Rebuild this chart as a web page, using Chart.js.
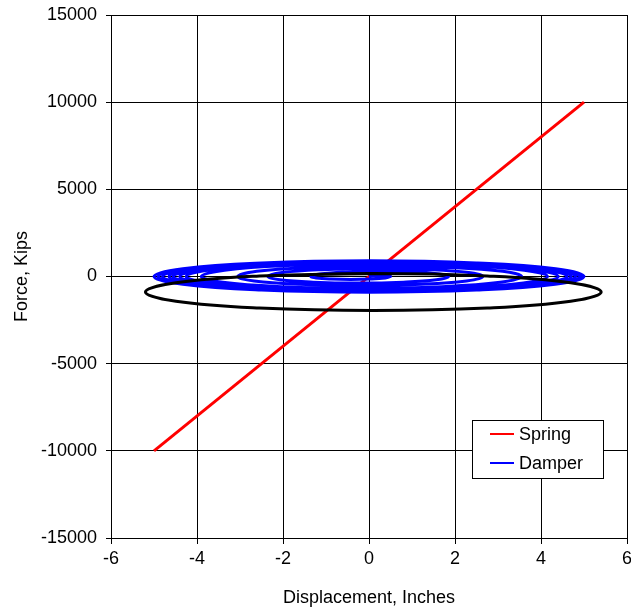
<!DOCTYPE html>
<html>
<head>
<meta charset="utf-8">
<script src="https://cdn.jsdelivr.net/npm/chart.js@4.4.0/dist/chart.umd.min.js"></script>
<style>
  html, body { margin: 0; padding: 0; background: #fff; }
</style>
</head>
<body>
<canvas id="chart" width="631" height="609"></canvas>
<script>
// axis ticks
const xTicks = [-6, -4, -2, 0, 2, 4, 6];
const yTicks = [-15000, -10000, -5000, 0, 5000, 10000, 15000];

// spring: straight line
const springPoints = [[-5, -10000], [5, 10000]];

// damper: force vs displacement, spiral building up to +/-5 in
const damperPoints = [
  [0, 0], [0.03, 23], [0.13, 39], [0.25, 45], [0.38, 39], [0.47, 23], [0.5, 0],
  [0.38, -83], [0.04, -144], [-0.43, -167], [-0.89, -144], [-1.23, -83], [-1.35, 0],
  [-1.14, 144], [-0.55, 249], [0.25, 288], [1.05, 249], [1.64, 144], [1.85, 0],
  [1.57, -189], [0.8, -327], [-0.25, -378], [-1.3, -327], [-2.07, -189], [-2.35, 0],
  [-2.02, 225], [-1.1, 390], [0.15, 450], [1.4, 390], [2.32, 225], [2.65, 0],
  [2.27, -257], [1.23, -444], [-0.2, -513], [-1.63, -444], [-2.67, -257], [-3.05, 0],
  [-2.61, 297], [-1.4, 514], [0.25, 594], [1.9, 514], [3.11, 297], [3.55, 0],
  [3.05, -335], [1.69, -581], [-0.18, -671], [-2.04, -581], [-3.4, -335], [-3.9, 0],
  [-3.36, 362], [-1.89, 628], [0.13, 725], [2.14, 628], [3.61, 362], [4.15, 0],
  [3.59, -378], [2.05, -655], [-0.05, -756], [-2.15, -655], [-3.69, -378], [-4.25, 0],
  [-3.67, 389], [-2.09, 674], [0.08, 779], [2.24, 674], [3.82, 389], [4.4, 0],
  [3.81, -396], [2.2, -686], [0, -792], [-2.2, -686], [-3.81, -396], [-4.4, 0],
  [-3.8, 405], [-2.15, 701], [0.1, 810], [2.35, 701], [4.0, 405], [4.6, 0],
  [3.99, -412], [2.31, -713], [0.03, -824], [-2.26, -713], [-3.94, -412], [-4.55, 0],
  [-3.93, 416], [-2.24, 721], [0.08, 833], [2.39, 721], [4.08, 416], [4.7, 0],
  [4.07, -421], [2.36, -729], [0.03, -842], [-2.31, -729], [-4.02, -421], [-4.65, 0],
  [-4.02, 425], [-2.29, 737], [0.08, 851], [2.44, 737], [4.17, 425], [4.8, 0],
  [4.16, -432], [2.4, -748], [0, -864], [-2.4, -748], [-4.16, -432], [-4.8, 0],
  [-4.15, 437], [-2.38, 756], [0.05, 873], [2.48, 756], [4.25, 437], [4.9, 0],
  [4.24, -441], [2.45, -764], [0, -882], [-2.45, -764], [-4.24, -441], [-4.9, 0],
  [-4.24, 446], [-2.43, 772], [0.05, 891], [2.53, 772], [4.34, 446], [5.0, 0],
  [4.33, -450], [2.5, -779], [0, -900], [-2.5, -779], [-4.33, -450], [-5.0, 0],
  [-4.33, 450], [-2.5, 779], [0, 900], [2.5, 779], [4.33, 450], [5.0, 0]
];

// black loop (not in legend)
const loopPoints = [
  [0.10, 170], [-2.55, 28], [-4.49, -360], [-5.20, -890], [-4.49, -1420],
  [-2.55, -1808], [0.10, -1950], [2.75, -1808], [4.69, -1420], [5.40, -890],
  [4.69, -360], [2.75, 28], [0.10, 170], [-2.55, 28]
];

const toXY = pts => pts.map(p => ({ x: p[0], y: p[1] }));

Chart.defaults.font.family = "'Liberation Sans', Arial, sans-serif";
Chart.defaults.font.size = 18;
Chart.defaults.color = "#000";

const boxLegend = {
  id: 'boxLegend',
  afterDraw(chart) {
    const ctx = chart.ctx;
    const area = chart.chartArea;
    const w = 131, h = 58;
    const x = area.right - 24 - w;
    const y = area.bottom - 60 - h;
    ctx.save();
    ctx.fillStyle = "#fff";
    ctx.fillRect(x, y, w, h);
    ctx.strokeStyle = "#000";
    ctx.lineWidth = 1;
    ctx.strokeRect(x + 0.5, y + 0.5, w, h);
    ctx.font = "18px 'Liberation Sans', Arial, sans-serif";
    ctx.textBaseline = "middle";
    ctx.textAlign = "left";
    const shown = chart.data.datasets.filter(d => d.inLegend);
    shown.forEach((d, i) => {
      const ry = y + 14 + i * 29;
      ctx.strokeStyle = d.borderColor;
      ctx.lineWidth = 2;
      ctx.beginPath();
      ctx.moveTo(x + 18, ry);
      ctx.lineTo(x + 42, ry);
      ctx.stroke();
      ctx.fillStyle = "#000";
      ctx.fillText(d.label, x + 47, ry + 1);
    });
    ctx.restore();
  }
};

new Chart(document.getElementById("chart"), {
  type: 'scatter',
  data: {
    datasets: [{
      label: "Spring",
      data: toXY(springPoints),
      showLine: true,
      borderColor: "#ff0000",
      borderWidth: 3,
      pointRadius: 0,
      inLegend: true,
      order: 2,
    }, {
      label: "Damper",
      data: toXY(damperPoints),
      showLine: true,
      borderColor: "#0000ff",
      borderWidth: 3,
      pointRadius: 0,
      tension: 0.4,
      inLegend: true,
      order: 1,
    }, {
      label: "Loop",
      data: toXY(loopPoints),
      showLine: true,
      borderColor: "#000",
      borderWidth: 3,
      pointRadius: 0,
      tension: 0.4,
      inLegend: false,
      order: 0,
    }],
  },
  options: {
    responsive: false,
    animation: false,
    layout: { padding: { top: 15, right: 4, left: 0, bottom: 0 } },
    scales: {
      x: {
        type: "linear",
        min: -6,
        max: 6,
        afterBuildTicks: s => { s.ticks = xTicks.map(v => ({ value: v })); },
        afterFit: s => {
          s.height = 71;
          s.paddingLeft = 0;
          s.paddingRight = 0;
        },
        ticks: {
          padding: 4,
          maxRotation: 0,
          callback: v => String(v),
        },
        grid: { color: "#000", tickLength: 6 },
        border: { color: "#000" },
        title: {
          display: true,
          text: "Displacement, Inches",
          padding: { top: 4, bottom: 0 },
        },
      },
      y: {
        type: "linear",
        min: -15000,
        max: 15000,
        afterBuildTicks: s => { s.ticks = yTicks.map(v => ({ value: v })); },
        afterFit: s => {
          s.width = 111;
          s.paddingTop = 0;
          s.paddingBottom = 0;
        },
        ticks: {
          padding: 9,
          callback: v => String(v),
        },
        grid: { color: "#000", tickLength: 5 },
        border: { color: "#000" },
        title: {
          display: true,
          text: "Force, Kips",
          padding: { top: 11, bottom: 0 },
        },
      },
    },
    plugins: {
      legend: { display: false },
      tooltip: { enabled: false },
    },
  },
  plugins: [boxLegend],
});
</script>
</body>
</html>
